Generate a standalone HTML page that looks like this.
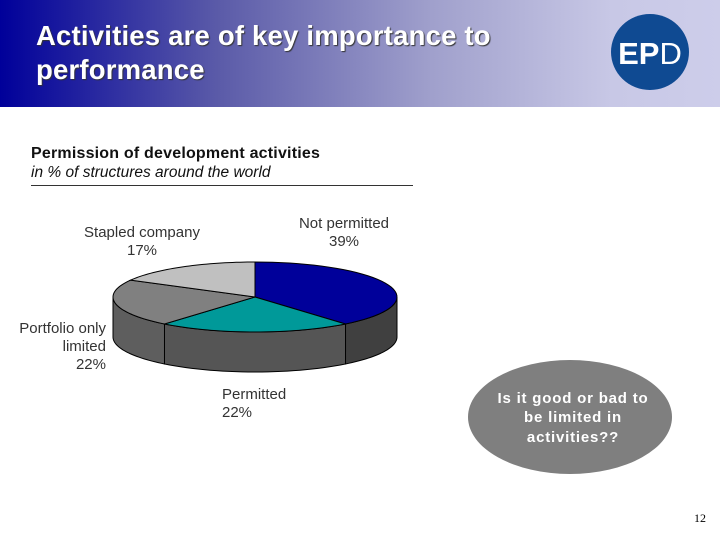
<!DOCTYPE html>
<html><head><meta charset="utf-8"><style>
body{margin:0;width:720px;height:540px;overflow:hidden;background:#fff;font-family:"Liberation Sans",sans-serif;position:relative}
.hdr{position:absolute;left:0;top:0;width:720px;height:107px;background:linear-gradient(90deg,#00009a 0%,#5a5aa8 30%,#a0a0cc 60%,#c8c8e6 85%,#cdcdea 100%)}
.title{position:absolute;left:36px;top:19px;color:#fff;font-weight:bold;font-size:27.5px;line-height:34px;text-shadow:1px 1px 1px #333;letter-spacing:0.2px}
.lbl{position:absolute;font-size:15px;color:#333;text-align:center;line-height:18px}
</style></head><body>
<div class="hdr"></div>
<div class="title">Activities are of key importance to<br>performance</div>
<svg style="position:absolute;left:0;top:0" width="720" height="540">
<ellipse cx="650" cy="52" rx="39" ry="38" fill="#0f4a92"/>
<text x="650" y="64" text-anchor="middle" fill="#fff" font-family="Liberation Sans" font-weight="bold" font-size="31">EP<tspan font-weight="normal">D</tspan></text>
</svg>
<div style="position:absolute;left:31px;top:145px;font-size:16px;font-weight:bold;color:#111;letter-spacing:0.2px">Permission of development activities</div>
<div style="position:absolute;left:31px;top:164px;font-size:15.5px;font-style:italic;color:#111">in % of structures around the world</div>
<div style="position:absolute;left:31px;top:185px;width:382px;height:1px;background:#333"></div>
<svg id="pie" style="position:absolute;left:0;top:0" width="720" height="540"></svg>
<div class="lbl" style="left:72px;top:224px;width:140px">Stapled company<br>17%</div>
<div class="lbl" style="left:288px;top:215px;width:112px">Not permitted<br>39%</div>
<div class="lbl" style="left:8px;top:320px;width:98px;text-align:right">Portfolio only<br>limited<br>22%</div>
<div class="lbl" style="left:212px;top:386px;width:90px;text-align:left;padding-left:10px">Permitted<br>22%</div>
<svg style="position:absolute;left:0;top:0" width="720" height="540">
<ellipse cx="570" cy="417" rx="102" ry="57" fill="#7f7f7f"/>
<text font-family="Liberation Sans" font-weight="bold" font-size="15" letter-spacing="0.8" fill="#fff" text-anchor="middle"><tspan x="573" y="403">Is it good or bad to</tspan><tspan x="573" y="422">be limited in</tspan><tspan x="573" y="442">activities??</tspan></text>
<text x="706" y="522" text-anchor="end" font-family="Liberation Serif" font-size="12" fill="#000">12</text>
</svg>
<script>
const categories=["Not permitted","Permitted","Portfolio only limited","Stapled company"];
const values=[39,22,22,17];
const colors=["#00009a","#009999","#808080","#c0c0c0"];
const sideColors=["#404040","#555555","#5e5e5e","#6a6a6a"];
const cx=255,cy=297,rx=142,ry=35,depth=40;
const svg=document.getElementById('pie');
const NS="http://www.w3.org/2000/svg";
function pt(t,dy){return [cx+rx*Math.sin(t),cy-ry*Math.cos(t)+(dy||0)];}
const total=values.reduce((a,b)=>a+b,0);
let acc=0;const angs=[];
values.forEach(v=>{const a0=acc/total*2*Math.PI;acc+=v;angs.push([a0,acc/total*2*Math.PI]);});
angs.forEach((a,i)=>{
  let s=Math.max(a[0],Math.PI/2),e=Math.min(a[1],3*Math.PI/2);
  if(e<=s)return;
  let d="";const n=30;
  for(let k=0;k<=n;k++){const p=pt(s+(e-s)*k/n);d+=(k?"L":"M")+p[0]+","+p[1];}
  for(let k=n;k>=0;k--){const p=pt(s+(e-s)*k/n,depth);d+="L"+p[0]+","+p[1];}
  const el=document.createElementNS(NS,'path');
  el.setAttribute('d',d+"Z");el.setAttribute('fill',sideColors[i]);el.setAttribute('stroke','#000');el.setAttribute('stroke-width','1');
  
  
  svg.appendChild(el);
});
angs.forEach((a,i)=>{
  let d="M"+cx+","+cy;const n=40;
  for(let k=0;k<=n;k++){const p=pt(a[0]+(a[1]-a[0])*k/n);d+="L"+p[0]+","+p[1];}
  const el=document.createElementNS(NS,'path');
  el.setAttribute('d',d+"Z");el.setAttribute('fill',colors[i]);el.setAttribute('stroke','#000');el.setAttribute('stroke-width','1');
  
  
  svg.appendChild(el);
});
</script>
</body></html>
